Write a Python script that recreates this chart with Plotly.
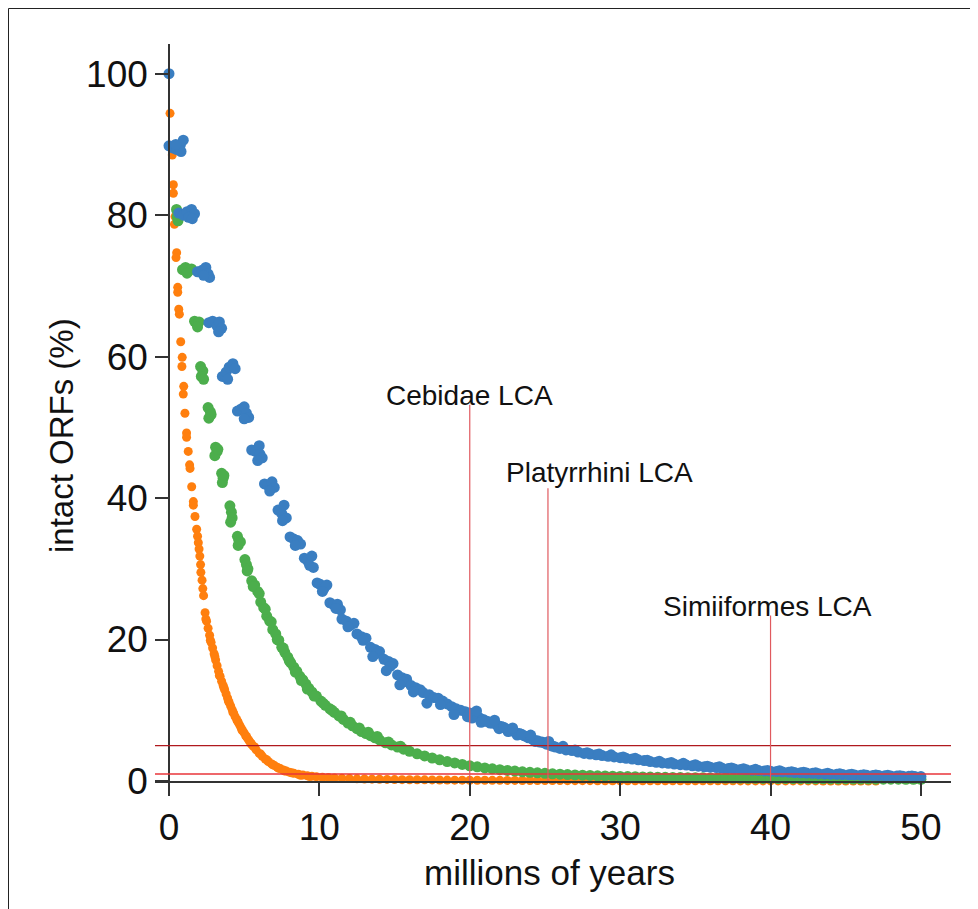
import plotly.graph_objects as go

# ---------------- data ----------------
blue_x = [0.0,
          0.0, 0.25, 0.5, 0.75, 0.95, 0.8, 0.45,
          0.65, 0.95, 1.2, 1.5, 1.7, 1.3, 1.55,
          1.9, 2.2, 2.45, 2.6, 2.7, 2.3,
          2.65, 2.9, 3.2, 3.35, 3.5, 3.3,
          3.55, 3.8, 4.0, 4.25, 4.4, 3.9,
          4.55, 4.8, 5.0, 5.15, 5.3, 5.0,
          5.5, 5.75, 6.0, 6.05, 6.2, 5.9,
          6.35, 6.6, 6.85, 7.0, 6.7,
          7.25, 7.5, 7.65, 7.8, 7.55,
          8.05, 8.3, 8.55, 8.75, 8.4,
          9.0, 9.2, 9.35, 9.5, 9.6,
          9.85, 10.05, 10.3, 10.5, 10.2,
          10.7, 10.95, 11.2, 11.4, 11.1,
          11.5, 11.8, 12.05, 12.3, 11.9,
          12.5, 12.8, 13.1, 12.9,
          13.4, 13.7, 14.0, 13.8,
          14.3, 14.6, 14.9, 14.7,
          15.2, 15.5, 15.8, 15.6,
          16.1, 16.4, 16.7, 16.9,
          17.3, 17.6, 17.9, 18.2,
          18.5, 18.8, 19.1, 19.4, 19.7,
          20.0, 20.3, 20.6, 20.9, 21.2, 21.5, 21.8, 22.1, 22.4, 22.7,
          23.0, 23.3, 23.6, 23.9, 24.2, 24.5, 24.8, 25.1, 25.4, 25.7,
          26.0, 26.4, 26.8, 27.2, 27.6, 28.0, 28.4, 28.8, 29.2, 29.6,
          30.0, 30.4, 30.8, 31.2, 31.6, 32.0, 32.4, 32.8, 33.2, 33.6,
          34.0, 34.4, 34.8, 35.2, 35.6, 36.0, 36.4, 36.8, 37.2, 37.6,
          38.0, 38.4, 38.8, 39.2, 39.6, 40.0, 40.4, 40.8, 41.2, 41.6,
          42.0, 42.4, 42.8, 43.2, 43.6, 44.0, 44.4, 44.8, 45.2, 45.6,
          46.0, 46.4, 46.8, 47.2, 47.6, 48.0, 48.4, 48.8, 49.2, 49.6, 50.0,
          20.15, 20.75, 21.35, 21.95, 22.55, 23.15, 23.75, 24.35, 24.95, 25.55,
          26.2, 27.0, 27.8, 28.6, 29.4, 30.2, 31.0, 31.8, 32.6, 33.4,
          34.2, 35.0, 35.8, 36.6, 37.4, 38.2, 39.0, 39.8, 40.6, 41.4,
          42.2, 43.0, 43.8, 44.6, 45.4, 46.2, 47.0, 47.8, 48.6, 49.4,
          13.55, 14.45, 15.35, 16.25, 17.15, 18.05, 18.95, 19.85, 20.45, 21.05,
          21.65, 22.25, 22.85, 23.45, 24.05, 24.65, 25.25]
blue_y = [100.0,
          89.8, 89.5, 89.3, 89.9, 90.6, 89.0, 90.0,
          80.3, 80.0, 80.5, 80.8, 80.2, 79.7, 79.5,
          72.0, 72.2, 72.6, 71.7, 71.2, 71.5,
          64.8, 65.0, 64.3, 64.9, 64.0, 63.5,
          57.2, 57.8, 58.5, 59.0, 58.3, 56.8,
          52.3, 52.6, 52.9, 52.0, 51.4, 51.2,
          46.8, 46.6, 47.4, 46.2, 45.7, 45.3,
          42.0, 41.8, 42.3, 41.5, 41.0,
          38.3, 37.8, 39.0, 37.2, 36.8,
          34.5, 34.2, 34.0, 33.5, 33.3,
          31.5, 31.2, 30.5, 31.8, 30.2,
          28.0, 27.8, 27.2, 27.7, 26.8,
          25.2, 24.9, 25.0, 24.2, 24.4,
          22.9, 22.6, 22.0, 22.3, 21.8,
          20.8, 20.4, 20.2, 19.9,
          18.9, 18.6, 18.3, 18.0,
          17.2, 16.9, 16.6, 16.2,
          15.0, 14.6, 14.4, 14.0,
          13.5, 13.2, 12.9, 12.5,
          12.2, 11.8, 11.7, 11.3,
          10.9, 10.5, 10.2, 10.0, 9.8,
          9.6, 9.3, 9.0, 8.7, 8.4, 8.2, 7.9, 7.7, 7.4, 7.1,
          6.9, 6.7, 6.4, 6.1, 5.9, 5.7, 5.5, 5.2, 5.0, 4.8,
          4.6, 4.4, 4.3, 4.1, 3.9, 3.8, 3.7, 3.6, 3.5, 3.4,
          3.3, 3.2, 3.1, 3.0, 2.9, 2.75, 2.65, 2.55, 2.5, 2.4,
          2.3, 2.25, 2.15, 2.1, 2.0, 1.95, 1.9, 1.8, 1.75, 1.7,
          1.62, 1.58, 1.52, 1.48, 1.42, 1.38, 1.33, 1.28, 1.24, 1.2,
          1.15, 1.12, 1.08, 1.04, 1.0, 0.97, 0.94, 0.91, 0.88, 0.86,
          0.83, 0.8, 0.78, 0.76, 0.74, 0.72, 0.7, 0.68, 0.66, 0.64, 0.62,
          8.9, 8.3, 8.2, 7.4, 7.0, 6.5, 6.3, 5.6, 5.4, 4.9,
          4.9, 4.4, 4.0, 3.8, 3.7, 3.4, 3.2, 2.95, 2.8, 2.6,
          2.5, 2.3, 2.1, 2.0, 1.85, 1.72, 1.65, 1.5, 1.45, 1.3,
          1.25, 1.15, 1.08, 1.02, 0.95, 0.9, 0.85, 0.8, 0.74, 0.7,
          17.6, 15.6, 13.6, 12.6, 11.0, 10.8, 9.4, 9.1, 9.9, 8.5,
          8.6, 7.6, 7.5, 6.6, 6.5, 5.5, 5.6]

green_x = [0.5, 0.55, 0.6,
           0.9, 1.1, 1.3, 1.5, 1.2,
           1.7, 1.85, 2.0, 1.9,
           2.1, 2.25, 2.15, 2.3,
           2.6, 2.75, 2.65, 2.8,
           3.1, 3.2, 3.05, 3.25,
           3.5, 3.6, 3.55, 3.65,
           4.05, 4.15, 4.2, 4.1,
           4.55, 4.65, 4.6, 4.75,
           5.05, 5.15, 5.25, 5.2,
           5.5, 5.7, 5.9, 6.1, 6.3, 6.5, 6.7, 6.9, 7.1, 7.3,
           7.5, 7.7, 7.9, 8.1, 8.3, 8.5, 8.7, 8.9, 9.1, 9.3,
           9.5, 9.8, 10.1, 10.4, 10.7, 11.0, 11.3, 11.6, 11.9, 12.2,
           12.5, 12.8, 13.1, 13.4, 13.7, 14.0, 14.4, 14.8, 15.2, 15.6,
           16.0, 16.5, 17.0, 17.5, 18.0, 18.5, 19.0, 19.5, 20.0, 20.5,
           21.0, 21.5, 22.0, 22.5, 23.0, 23.5, 24.0, 24.5, 25.0, 25.5,
           26.0, 26.5, 27.0, 27.5, 28.0, 28.5, 29.0, 29.5, 30.0, 30.5,
           31.0, 31.5, 32.0, 32.5, 33.0, 33.5, 34.0, 34.5, 35.0, 35.5,
           36.0, 36.5, 37.0, 37.5, 38.0, 38.5, 39.0, 39.5, 40.0, 40.5,
           41.0, 41.5, 42.0, 42.5, 43.0, 43.5, 44.0, 44.5, 45.0, 45.5,
           46.0, 46.5, 47.0, 47.5, 48.0, 48.5, 49.0, 49.5, 50.0,
           5.6, 6.0, 6.4, 6.8, 7.2, 7.6, 8.0, 8.4, 8.8, 9.2,
           9.65, 10.25, 10.85, 11.45, 12.05, 12.65, 13.25, 13.85, 14.6, 15.4]
green_y = [80.8, 79.8, 79.2,
           72.3, 72.6, 72.1, 72.4, 71.8,
           65.0, 64.6, 64.9, 64.2,
           58.6, 58.0, 57.2, 56.8,
           52.8, 52.2, 51.3, 51.8,
           47.2, 46.6, 46.0, 46.9,
           43.5, 42.8, 42.2, 43.2,
           38.9, 38.0, 37.2, 36.6,
           34.6, 34.0, 33.3, 33.8,
           31.3, 30.6, 30.0, 29.7,
           28.3, 27.7, 26.8, 25.3, 24.5, 23.3, 22.6, 21.4, 20.8, 19.9,
           18.9, 18.2, 17.5, 16.7, 16.1, 15.5, 14.8, 14.3, 13.7, 13.1,
           12.6, 12.0, 11.3, 10.7, 10.2, 9.7, 9.2, 8.7, 8.2, 7.8,
           7.4, 7.0, 6.7, 6.4, 6.1, 5.8, 5.4, 5.1, 4.8, 4.5,
           4.2, 3.85, 3.55, 3.25, 3.0, 2.75, 2.55, 2.35, 2.15, 2.0,
           1.85, 1.72, 1.6, 1.5, 1.4, 1.3, 1.22, 1.15, 1.08, 1.02,
           0.96, 0.91, 0.86, 0.82, 0.78, 0.74, 0.71, 0.68, 0.65, 0.62,
           0.6, 0.58, 0.56, 0.54, 0.52, 0.5, 0.49, 0.47, 0.46, 0.45,
           0.44, 0.43, 0.42, 0.41, 0.4, 0.39, 0.38, 0.37, 0.36, 0.35,
           0.34, 0.33, 0.33, 0.32, 0.31, 0.31, 0.3, 0.29, 0.29, 0.28,
           0.27, 0.27, 0.26, 0.26, 0.25, 0.25, 0.24, 0.24, 0.23,
           27.5, 26.5, 24.3, 22.5, 20.0, 18.8, 17.0, 15.4, 14.2, 13.0,
           12.0, 11.0, 10.0, 9.2, 8.3, 7.5, 6.9, 6.3, 5.5, 4.9]

orange_x = [0.07, 0.22, 0.29, 0.29, 0.4, 0.36, 0.51, 0.47, 0.58, 0.58,
            0.65, 0.69, 0.78, 0.88, 0.86, 0.98, 0.95, 1.06, 1.17, 1.17,
            1.28, 1.37, 1.4, 1.51, 1.62, 1.62, 1.73, 1.84,
            1.9, 1.95, 2.0, 2.05, 2.1, 2.12, 2.2, 2.25, 2.3,
            2.4, 2.5, 2.6, 2.7, 2.8, 2.9, 3.0, 3.1, 3.2, 3.3,
            3.4, 3.5, 3.6, 3.7, 3.8, 3.9, 4.0, 4.1, 4.2, 4.3,
            4.4, 4.5, 4.6, 4.7, 4.8, 4.9, 5.0, 5.1, 5.2, 5.3,
            5.4, 5.5, 5.6, 5.8, 6.0, 6.2, 6.4, 6.6, 6.8, 7.0,
            7.2, 7.4, 7.6, 7.8, 8.0, 8.3, 8.6, 8.9, 9.2, 9.5,
            9.8, 10.2, 10.6, 11.0, 11.5, 12.0, 12.5, 13.0, 13.5, 14.0,
            14.5, 15.0, 15.5, 16.0, 16.5, 17.0, 17.5, 18.0, 18.5, 19.0,
            19.5, 20.0, 20.5, 21.0, 21.5, 22.0, 22.5, 23.0, 23.5, 24.0,
            24.5, 25.0, 25.5, 26.0, 26.5, 27.0, 27.5, 28.0, 28.5, 29.0,
            29.5, 30.0, 30.5, 31.0, 31.5, 32.0, 32.5, 33.0, 33.5, 34.0,
            34.5, 35.0, 35.5, 36.0, 36.5, 37.0, 37.5, 38.0, 38.5, 39.0,
            39.5, 40.0, 40.5, 41.0, 41.5, 42.0, 42.5, 43.0, 43.5, 44.0,
            44.5, 45.0, 45.5, 46.0, 46.5, 47.0,
            2.45, 2.75, 3.05, 3.35, 3.65, 3.95, 4.25, 4.55, 4.85, 5.15,
            5.45, 5.7, 6.1, 6.5, 6.9, 7.3, 7.7, 8.15, 8.75, 9.35]
orange_y = [94.4, 88.5, 84.3, 83.1, 79.8, 78.7, 74.7, 74.0, 69.8, 69.1,
            66.7, 66.0, 62.1, 59.9, 58.6, 55.8, 54.7, 52.0, 49.2, 48.6,
            46.6, 44.7, 44.2, 41.6, 39.5, 39.0, 37.4, 35.6,
            34.6, 33.7, 32.8, 31.8, 30.6, 29.5, 28.4, 27.2, 26.2,
            23.8, 22.6, 21.6, 20.6, 19.6, 18.8, 18.0, 17.1, 16.3, 15.5,
            14.8, 14.1, 13.5, 12.9, 12.3, 11.7, 11.1, 10.6, 10.1, 9.6,
            9.1, 8.7, 8.3, 7.9, 7.5, 7.1, 6.8, 6.4, 6.1, 5.8,
            5.5, 5.2, 4.9, 4.4, 3.9, 3.5, 3.1, 2.75, 2.45, 2.2,
            1.95, 1.75, 1.55, 1.4, 1.25, 1.1, 0.95, 0.85, 0.75, 0.67,
            0.6, 0.53, 0.48, 0.43, 0.38, 0.34, 0.31, 0.28, 0.26, 0.24,
            0.22, 0.2, 0.19, 0.18, 0.17, 0.16, 0.15, 0.14, 0.13, 0.12,
            0.12, 0.11, 0.1, 0.1, 0.09, 0.09, 0.08, 0.08, 0.07, 0.07,
            0.07, 0.06, 0.06, 0.06, 0.05, 0.05, 0.05, 0.05, 0.04, 0.04,
            0.04, 0.04, 0.04, 0.03, 0.03, 0.03, 0.03, 0.03, 0.03, 0.02,
            0.02, 0.02, 0.02, 0.02, 0.02, 0.02, 0.02, 0.01, 0.01, 0.01,
            0.01, 0.01, 0.01, 0.01, 0.01, 0.01, 0.01, 0.01, 0.0, 0.0,
            0.0, 0.0, 0.0, 0.0, 0.0, 0.0,
            22.9, 19.9, 17.6, 14.9, 13.2, 11.3, 9.7, 8.5, 7.2, 6.3,
            5.3, 4.8, 3.8, 3.0, 2.3, 1.8, 1.42, 1.15, 0.8, 0.63]

# reference lines
hline_levels = [5, 1]
lca_names = ["Cebidae LCA", "Platyrrhini LCA", "Simiiformes LCA"]
lca_x = [20.0, 25.2, 40.0]
lca_top = [53.2, 41.4, 23.4]
lca_label_x = [20.0, 28.6, 39.8]
lca_label_y = [54.5, 43.6, 24.7]

x_ticks = [0, 10, 20, 30, 40, 50]
y_ticks = [0, 20, 40, 60, 80, 100]
x_title = "millions of years"
y_title = "intact ORFs (%)"

# ---------------- figure ----------------
BLUE = "#3a7ec1"
GREEN = "#4cae4c"
ORANGE = "#ff7f0e"

fig = go.Figure()
for xs, ys, col, sz in [(orange_x, orange_y, ORANGE, 9),
                        (green_x, green_y, GREEN, 11),
                        (blue_x, blue_y, BLUE, 11)]:
    fig.add_trace(go.Scatter(x=xs, y=ys, mode="markers",
                             marker=dict(color=col, size=sz, line=dict(width=0)),
                             cliponaxis=False, showlegend=False, hoverinfo="x+y"))

# page body has an 8px margin, so the figure is 8px smaller than the window
W, H = 970, 901
L, T = 147, 36
R = W - 943
B = H - 773
pw, ph = W - L - R, H - T - B

def px_x(p):   # window pixel -> paper x
    return (p - 8 - L) / pw

def px_y(p):   # window pixel -> paper y
    return (H - B - (p - 8)) / ph

shapes = []
for lvl, col in zip(hline_levels, ["#b0191e", "#e8353a"]):
    shapes.append(dict(type="line", xref="paper", yref="y", x0=0, x1=1,
                       y0=lvl, y1=lvl, line=dict(color=col, width=1.4)))
for xv, top in zip(lca_x, lca_top):
    shapes.append(dict(type="line", xref="x", yref="y", x0=xv, x1=xv,
                       y0=0, y1=top, line=dict(color="#e05a5f", width=1.2)))
# outer frame (top and left)
shapes.append(dict(type="line", xref="paper", yref="paper", x0=px_x(8.5), x1=px_x(978),
                   y0=px_y(8.5), y1=px_y(8.5), line=dict(color="#222222", width=1)))
shapes.append(dict(type="line", xref="paper", yref="paper", x0=px_x(8.5), x1=px_x(8.5),
                   y0=px_y(8.5), y1=px_y(909), line=dict(color="#222222", width=1)))

FONT = "Liberation Sans, Arial, sans-serif"
annotations = []
for name, ax_, ay_ in zip(lca_names, lca_label_x, lca_label_y):
    annotations.append(dict(x=ax_, y=ay_, xref="x", yref="y", text=name,
                            showarrow=False, xanchor="center", yanchor="middle",
                            font=dict(family=FONT, size=28, color="#111111")))
# axis titles
annotations.append(dict(x=px_x(549), y=px_y(872), xref="paper", yref="paper",
                        text=x_title, showarrow=False, xanchor="center", yanchor="middle",
                        font=dict(family=FONT, size=35, color="#111111")))
annotations.append(dict(x=px_x(61), y=px_y(436), xref="paper", yref="paper",
                        text=y_title, showarrow=False, xanchor="center", yanchor="middle",
                        textangle=-90,
                        font=dict(family=FONT, size=33, color="#111111")))

fig.update_layout(
    width=W, height=H,
    margin=dict(l=L, r=R, t=T, b=B, pad=0),
    paper_bgcolor="white", plot_bgcolor="white",
    shapes=shapes, annotations=annotations,
    font=dict(family=FONT, color="#111111"),
    xaxis=dict(range=[-0.93, 52.0], tickvals=x_ticks, ticks="outside",
               ticklen=13, tickwidth=1.5, tickcolor="#333333",
               showline=True, linecolor="#333333", linewidth=1.5,
               showgrid=False, zeroline=False, ticklabelstandoff=0,
               tickfont=dict(size=37, family=FONT)),
    yaxis=dict(range=[0, 104.2], tickvals=y_ticks, ticks="outside",
               ticklen=13, tickwidth=1.5, tickcolor="#333333",
               showline=True, linecolor="#333333", linewidth=1.5,
               showgrid=False, zeroline=False,
               anchor="free", position=px_x(169),
               tickfont=dict(size=37, family=FONT)),
)

fig.write_html("out.html")
